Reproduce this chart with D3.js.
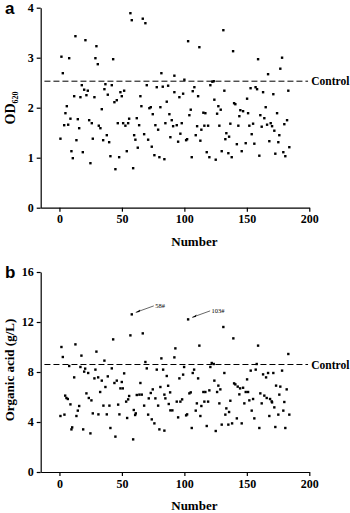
<!DOCTYPE html>
<html>
<head>
  <meta charset="utf-8">
  <title>OD620 and organic acid by strain number</title>
  <script src="https://d3js.org/d3.v7.min.js"></script>
  <style>
    body { margin: 0; background: #fff; }
    svg text { fill: #000; }
  </style>
</head>
<body>
  <div id="chart"></div>

  <script>
    // panel a: strain number and OD620
    var strainA = [
      56.8, 57.9, 66.7, 68.8, 12.8, 20.8, 29.6, 1.6, 7.8, 28.8,
      30.7, 43, 2.7, 81.6, 92, 17.9, 36.8, 41.9, 19.8, 22.7,
      36, 69.9, 77.9, 82.7, 87, 92, 11.8, 16.8, 21.6, 28,
      38.7, 48.8, 51.8, 49.9, 64.8, 45.9, 44, 85.9, 5.9, 65.6,
      72, 73.1, 80.8, 33.9, 4.8, 74.7, 88, 8.8, 14.7, 23.8,
      25.9, 55.8, 61.9, 89.9, 3.8, 7, 31.5, 32.8, 46.7, 51,
      52.8, 55, 63.8, 76.8, 79, 84.8, 91, 15.8, 0.8, 13.6,
      26.7, 35, 37.9, 39.8, 59.8, 60.8, 67.8, 71, 88.8, 62.7,
      73.9, 9.6, 18.7, 53.9, 10.7, 40.8, 47.8, 76, 80, 84,
      24.8, 44.8, 59,
      103, 112, 131.2, 139, 159, 178.2, 176.8, 167, 100, 122.4,
      123.5, 120.8, 108, 106.7, 99, 96, 111, 132, 153, 157,
      158.2, 163, 171.2, 183.2, 124, 150.2, 139.8, 140.8, 127.2, 129.1,
      105.1, 165.1, 104, 115.2, 116.8, 126.2, 144.8, 147, 144, 151,
      160.8, 164, 174.2, 97.9, 93.9, 110.2, 116, 119, 128, 136.8,
      143.2, 152, 155, 161.9, 166.2, 169.1, 170.2, 180, 182.2, 113.6,
      96.8, 109.1, 172, 133.6, 135.8, 153.9, 176, 101.4, 102.2, 95,
      112.8, 132.8, 149.1, 156, 168, 175.2, 142, 184, 117.9, 129.9,
      135.2, 145.9, 172.8, 179.2, 120, 137.9, 160, 180.8, 105.9, 125.1
    ];
    var odA = [
      3.89, 3.75, 3.78, 3.69, 3.43, 3.35, 3.23, 3.02, 2.99, 2.99,
      2.87, 2.97, 2.69, 2.69, 2.64, 2.45, 2.47, 2.45, 2.36, 2.34,
      2.37, 2.45, 2.41, 2.42, 2.44, 2.31, 2.23, 2.21, 2.25, 2.21,
      2.26, 2.31, 2.34, 2.23, 2.23, 2.15, 2.11, 2.12, 2.03, 2.03,
      1.99, 2.01, 2.01, 1.97, 1.89, 1.87, 1.87, 1.78, 1.77, 1.75,
      1.69, 1.78, 1.79, 1.75, 1.65, 1.66, 1.64, 1.59, 1.69, 1.69,
      1.64, 1.69, 1.65, 1.65, 1.56, 1.69, 1.63, 1.59, 1.38, 1.35,
      1.38, 1.35, 1.45, 1.31, 1.45, 1.36, 1.47, 1.36, 1.41, 1.2,
      1.22, 1.13, 1.11, 1.13, 0.99, 1.03, 1.01, 1.05, 1.01, 0.97,
      0.89, 0.77, 0.79,
      3.33, 3.21, 3.55, 3.13, 2.97, 3.0, 2.78, 2.67, 2.56, 2.52,
      2.53, 2.45, 2.41, 2.33, 2.28, 2.21, 2.23, 2.34, 2.39, 2.41,
      2.37, 2.31, 2.27, 2.34, 2.16, 2.18, 2.09, 2.07, 2.03, 1.96,
      1.96, 2.01, 1.85, 1.9, 1.89, 1.88, 1.95, 1.93, 1.83, 1.89,
      1.85, 1.79, 1.89, 1.69, 1.65, 1.63, 1.64, 1.64, 1.64, 1.68,
      1.64, 1.64, 1.68, 1.62, 1.66, 1.69, 1.63, 1.67, 1.75, 1.56,
      1.48, 1.45, 1.54, 1.49, 1.42, 1.47, 1.45, 1.35, 1.37, 1.32,
      1.34, 1.37, 1.29, 1.28, 1.33, 1.31, 1.27, 1.21, 1.11, 1.13,
      1.09, 1.13, 1.08, 1.11, 1.01, 1.01, 1.04, 1.03, 1.01, 0.96
    ];
    var controlA = 2.53;

    // panel b: strain number and organic acid (g/L)
    var strainB = [
      57.9, 56.8, 66.7, 43, 1.6, 12.8, 29.6, 2.7, 17.6, 36,
      81.6, 92, 7.8, 16.8, 20.6, 19.8, 23, 28.8, 41.9, 51.8,
      68.8, 69.9, 77.9, 83, 85.9, 11.8, 28, 31, 33.9, 38.7,
      45.9, 44, 49.9, 64.8, 87, 36.8, 48.8, 50.7, 80.8, 32.6,
      21.6, 74.7, 84, 88.6, 55.8, 61.9, 64, 65.9, 73.1, 4.6,
      5.6, 6.7, 23.5, 25.6, 55, 71.5, 76.8, 84.8, 53.4, 8.8,
      35.2, 40, 47, 67.8, 79, 87.5, 15.8, 14.7, 59.5, 88.8,
      90.4, 26.7, 31.2, 37.9, 48, 61.1, 71, 0.8, 4, 13.6,
      54.2, 60.6, 73.9, 76, 10.2, 9.6, 19, 40.8, 80, 84,
      24.8, 44.8, 59, 92.8,
      103, 131.2, 139.2, 112, 159, 183.2, 121.9, 123.5, 120.8, 157.9,
      99.8, 107.8, 106.7, 99, 96, 111, 132, 153.1, 157.1, 163,
      165.4, 167, 171.2, 178.2, 124, 150.2, 127.2, 128.8, 139.8, 140.8,
      142.7, 144.6, 147, 144, 149.1, 151, 160.8, 164, 165.9, 168.6,
      169.9, 173.4, 176.8, 181.9, 176, 104, 105.1, 115.2, 116.8, 120,
      126.2, 136.8, 152, 155, 93.9, 96.8, 98.2, 110, 116, 119,
      128, 148, 161.9, 170.2, 180, 113.6, 172, 133.6, 109.1, 135.8,
      153.9, 179.2, 101.4, 102.2, 95, 112.8, 132.8, 142, 156, 168,
      175.2, 184, 117.9, 129.9, 135.2, 138.2, 145.9, 105.9, 160, 172.8,
      180.8, 125.1
    ];
    var acidB = [
      12.61, 10.93, 11.09, 10.61, 10.0, 10.21, 9.63, 9.2, 9.31, 8.91,
      9.09, 9.17, 8.48, 8.4, 8.27, 8.03, 7.92, 8.19, 8.29, 7.89,
      8.8, 8.29, 8.19, 8.19, 7.68, 7.57, 7.49, 7.57, 7.31, 7.65,
      7.31, 7.12, 7.2, 7.12, 6.9, 6.8, 6.69, 6.69, 6.8, 6.4,
      6.29, 6.61, 6.19, 6.37, 6.08, 6.16, 6.19, 6.19, 6.32, 6.11,
      5.92, 5.84, 5.92, 5.73, 5.81, 5.89, 5.89, 5.89, 5.63, 5.41,
      5.31, 5.31, 5.39, 5.31, 5.31, 5.44, 5.28, 4.91, 4.96, 4.93,
      4.93, 4.69, 4.61, 4.61, 4.61, 4.69, 4.59, 4.48, 4.59, 4.48,
      4.32, 4.56, 4.21, 3.89, 3.57, 3.41, 3.41, 3.52, 3.41, 3.31,
      3.09, 2.83, 2.61, 9.89,
      12.21, 11.6, 10.69, 10.11, 10.11, 9.44, 8.72, 8.64, 8.4, 8.64,
      8.4, 8.19, 7.92, 7.79, 7.49, 7.49, 7.92, 8.11, 8.19, 7.81,
      7.57, 7.92, 7.92, 8.11, 7.31, 7.41, 6.91, 6.61, 7.09, 7.01,
      6.83, 6.69, 6.74, 6.21, 6.4, 6.4, 6.29, 6.11, 5.92, 5.84,
      5.65, 6.91, 6.83, 6.61, 6.19, 6.29, 6.37, 6.4, 6.4, 6.53,
      6.4, 5.7, 5.73, 5.84, 5.63, 5.63, 5.81, 5.49, 5.63, 5.63,
      5.49, 5.49, 5.49, 5.57, 5.6, 5.28, 5.17, 5.09, 4.91, 4.8,
      4.91, 4.91, 4.53, 4.61, 4.37, 4.48, 4.59, 4.29, 4.29, 4.48,
      4.59, 4.59, 3.68, 3.79, 3.79, 3.89, 3.89, 3.52, 3.52, 3.6,
      3.52, 3.28
    ];
    var controlB = 8.6;

    // highlighted strains in panel b
    var tagNames = ["58#", "103#"];
    var tagStrain = [57.9, 103];
    var tagAcid = [12.61, 12.21];

    var xTicks = [0, 50, 100, 150, 200];
    var yTicksA = [0, 1, 2, 3, 4];
    var yTicksB = [0, 4, 8, 12, 16];

    var serif = "'Times New Roman', 'Liberation Serif', serif";
    var sans = "Arial, 'Liberation Sans', sans-serif";

    var svg = d3.select("#chart").append("svg")
      .attr("width", 350)
      .attr("height", 513);

    function drawPanel(p) {
      var g = svg.append("g");

      var x = d3.scaleLinear().domain([-15, 200]).range([40.7, 309.3]);
      var y = d3.scaleLinear().domain(p.yDomain).range([p.bottom, p.top]);

      var xAxis = g.append("g")
        .attr("transform", "translate(0," + p.bottom + ")")
        .call(d3.axisBottom(x).tickValues(xTicks).tickFormat(d3.format("d"))
          .tickSize(4).tickSizeOuter(0).tickPadding(3));
      var yAxis = g.append("g")
        .attr("transform", "translate(40.7,0)")
        .call(d3.axisLeft(y).tickValues(p.yTicks).tickFormat(d3.format("d"))
          .tickSize(4).tickSizeOuter(0).tickPadding(3));

      [xAxis, yAxis].forEach(function(ax) {
        ax.selectAll("path, line").attr("stroke", "#000").attr("stroke-width", 1.2);
        ax.selectAll("text")
          .style("font-family", serif)
          .style("font-weight", "bold")
          .style("font-size", "12px")
          .attr("fill", "#000");
      });

      // control line
      g.append("line")
        .attr("x1", x(-12)).attr("x2", x(199))
        .attr("y1", y(p.control)).attr("y2", y(p.control))
        .attr("stroke", "#000")
        .attr("stroke-width", 1)
        .attr("stroke-dasharray", "6,3");

      g.append("text")
        .attr("x", x(200) + 2)
        .attr("y", y(p.control) + 4)
        .style("font-family", serif)
        .style("font-weight", "bold")
        .style("font-size", "11.5px")
        .text("Control");

      g.selectAll("rect.pt")
        .data(p.xs)
        .enter()
        .append("rect")
        .attr("class", "pt")
        .attr("x", function(d) { return x(d) - 1.2; })
        .attr("y", function(d, i) { return y(p.ys[i]) - 1.2; })
        .attr("width", 2.4)
        .attr("height", 2.4)
        .attr("fill", "#000");

      g.append("text")
        .attr("x", (x(0) + x(200)) / 2 + 10)
        .attr("y", p.bottom + 38)
        .attr("text-anchor", "middle")
        .style("font-family", serif)
        .style("font-weight", "bold")
        .style("font-size", "13px")
        .text("Number");

      g.append("text")
        .attr("x", 5)
        .attr("y", p.top + 6)
        .style("font-family", sans)
        .style("font-weight", "bold")
        .style("font-size", "17px")
        .text(p.letter);

      return { g: g, x: x, y: y };
    }

    var a = drawPanel({
      letter: "a", top: 7.7, bottom: 207.7, yDomain: [0, 4], yTicks: yTicksA,
      control: controlA, xs: strainA, ys: odA
    });

    var yLabA = a.g.append("text")
      .attr("transform", "translate(15,108) rotate(-90)")
      .attr("text-anchor", "middle")
      .style("font-family", serif)
      .style("font-weight", "bold")
      .style("font-size", "14px");
    yLabA.append("tspan").text("OD");
    yLabA.append("tspan")
      .attr("dy", 3)
      .style("font-size", "8px")
      .text("620");

    var b = drawPanel({
      letter: "b", top: 272, bottom: 472, yDomain: [0, 16], yTicks: yTicksB,
      control: controlB, xs: strainB, ys: acidB
    });

    b.g.append("text")
      .attr("transform", "translate(14,370) rotate(-90)")
      .attr("text-anchor", "middle")
      .style("font-family", serif)
      .style("font-weight", "bold")
      .style("font-size", "13px")
      .text("Organic acid (g/L)");

    // arrows pointing at the two best strains
    tagNames.forEach(function(name, i) {
      var px = b.x(tagStrain[i]), py = b.y(tagAcid[i]);
      var x1 = px + 4, y1 = py - 2, x2 = px + 22, y2 = py - 8.5;
      b.g.append("line")
        .attr("x1", x1).attr("y1", y1).attr("x2", x2).attr("y2", y2)
        .attr("stroke", "#000").attr("stroke-width", 0.6);
      b.g.append("path")
        .attr("d", "M" + x1 + "," + y1 + "L" + (x1 + 4.5) + "," + (y1 - 3) + "L" + (x1 + 3.6) + "," + (y1 - 0.4) + "Z")
        .attr("fill", "#000");
      b.g.append("text")
        .attr("x", x2 + 1.5)
        .attr("y", y2 + 2.5)
        .style("font-family", serif)
        .style("font-size", "6.5px")
        .text(name);
    });
  </script>
</body>
</html>
